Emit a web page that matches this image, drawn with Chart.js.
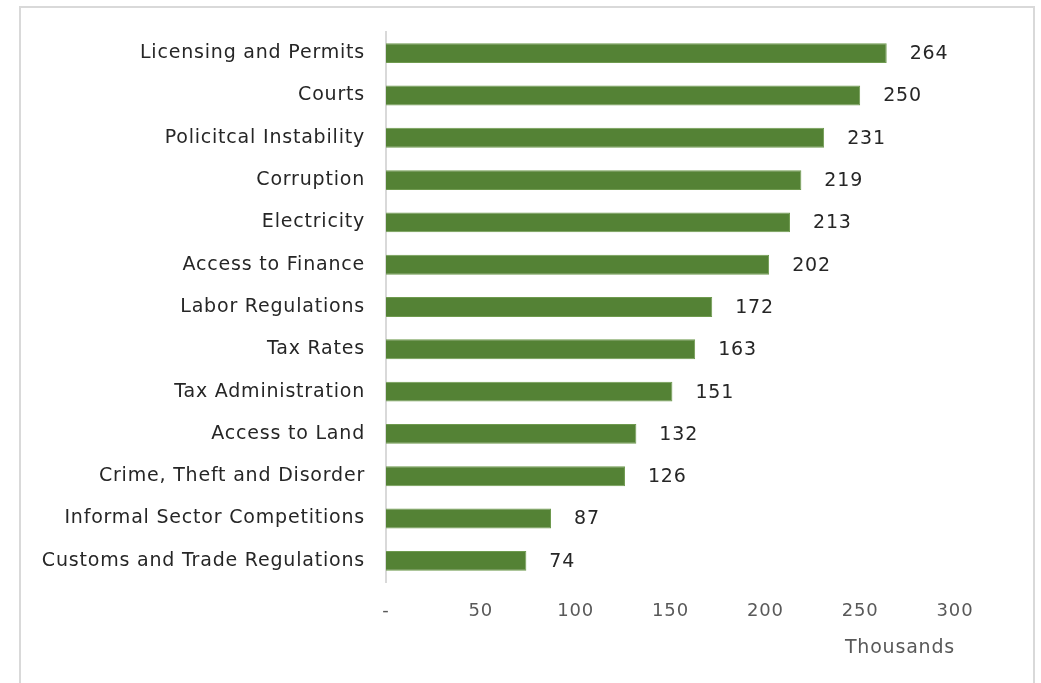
<!DOCTYPE html>
<html>
<head>
<meta charset="utf-8">
<script src="https://cdn.jsdelivr.net/npm/chart.js@4/dist/chart.umd.min.js"></script>
<style>
  html, body { margin: 0; padding: 0; background: #fff; }
  #wrap { position: relative; width: 1041px; height: 683px; }
  #frame { position: absolute; left: 19px; top: 6px; width: 1012px; height: 700px; border: 2px solid #d9d9d9; pointer-events: none; }
  canvas { position: absolute; left: 0; top: 0; }
</style>
</head>
<body>
<div id="wrap">
  <canvas id="myChart" width="1041" height="683"></canvas>
  <div id="frame"></div>
</div>
<script>
const categories = [
    'Licensing and Permits',
    'Courts',
    'Policitcal Instability',
    'Corruption',
    'Electricity',
    'Access to Finance',
    'Labor Regulations',
    'Tax Rates',
    'Tax Administration',
    'Access to Land',
    'Crime, Theft and Disorder',
    'Informal Sector Competitions',
    'Customs and Trade Regulations'
];
const values = [264, 250, 231, 219, 213, 202, 172, 163, 151, 132, 126, 87, 74];
const tickLabels = { 0: '-', 50: '50', 100: '100', 150: '150', 200: '200', 250: '250', 300: '300' };

const fontFamily = '"DejaVu Sans", sans-serif';

// the original text is rather loosely spaced
const spacing = {
    id: 'spacing',
    beforeLayout(chart) { chart.ctx.letterSpacing = '0.8px'; },
    beforeDraw(chart) { chart.ctx.letterSpacing = '0.8px'; }
};

// simple value labels at the end of each bar
const barLabels = {
    id: 'barLabels',
    afterDatasetsDraw(chart) {
        const ctx = chart.ctx;
        const meta = chart.getDatasetMeta(0);
        ctx.save();
        ctx.font = '19px ' + fontFamily;
        ctx.fillStyle = '#262626';
        ctx.textAlign = 'left';
        ctx.textBaseline = 'middle';
        meta.data.forEach((bar, i) => {
            ctx.fillText(values[i], bar.x + 23, bar.y + 1);
        });
        ctx.restore();
    }
};

const data = {
    labels: categories,
    datasets: [{
        data: values,
        backgroundColor: '#548235',
        borderColor: '#6f9a4f',
        borderWidth: 1,
        barPercentage: 0.47,
        categoryPercentage: 1
    }]
};

const config = {
    type: 'bar',
    data: data,
    plugins: [spacing, barLabels],
    options: {
        indexAxis: 'y',
        responsive: false,
        animation: false,
        layout: { padding: { top: 32, right: 86, left: 0, bottom: 24 } },
        plugins: {
            legend: { display: false },
            tooltip: { enabled: false }
        },
        scales: {
            x: {
                min: 0,
                max: 300,
                grid: { display: false },
                border: { display: false },
                ticks: {
                    stepSize: 50,
                    color: '#595959',
                    padding: 11,
                    font: { size: 18, family: fontFamily },
                    callback: (v) => tickLabels[v]
                },
                title: {
                    display: true,
                    text: 'Thousands',
                    align: 'end',
                    color: '#595959',
                    padding: { top: 8, bottom: 0 },
                    font: { size: 19, family: fontFamily }
                },
                afterFit: (scale) => { scale.height = 683 - 582 - 24; }
            },
            y: {
                grid: { display: false },
                border: { display: true, color: '#d9d9d9', width: 2 },
                ticks: {
                    color: '#262626',
                    padding: 13,
                    font: { size: 19, family: fontFamily }
                },
                afterFit: (scale) => { scale.width = 386; }
            }
        }
    }
};

const myChart = new Chart(document.getElementById('myChart'), config);
</script>
</body>
</html>
